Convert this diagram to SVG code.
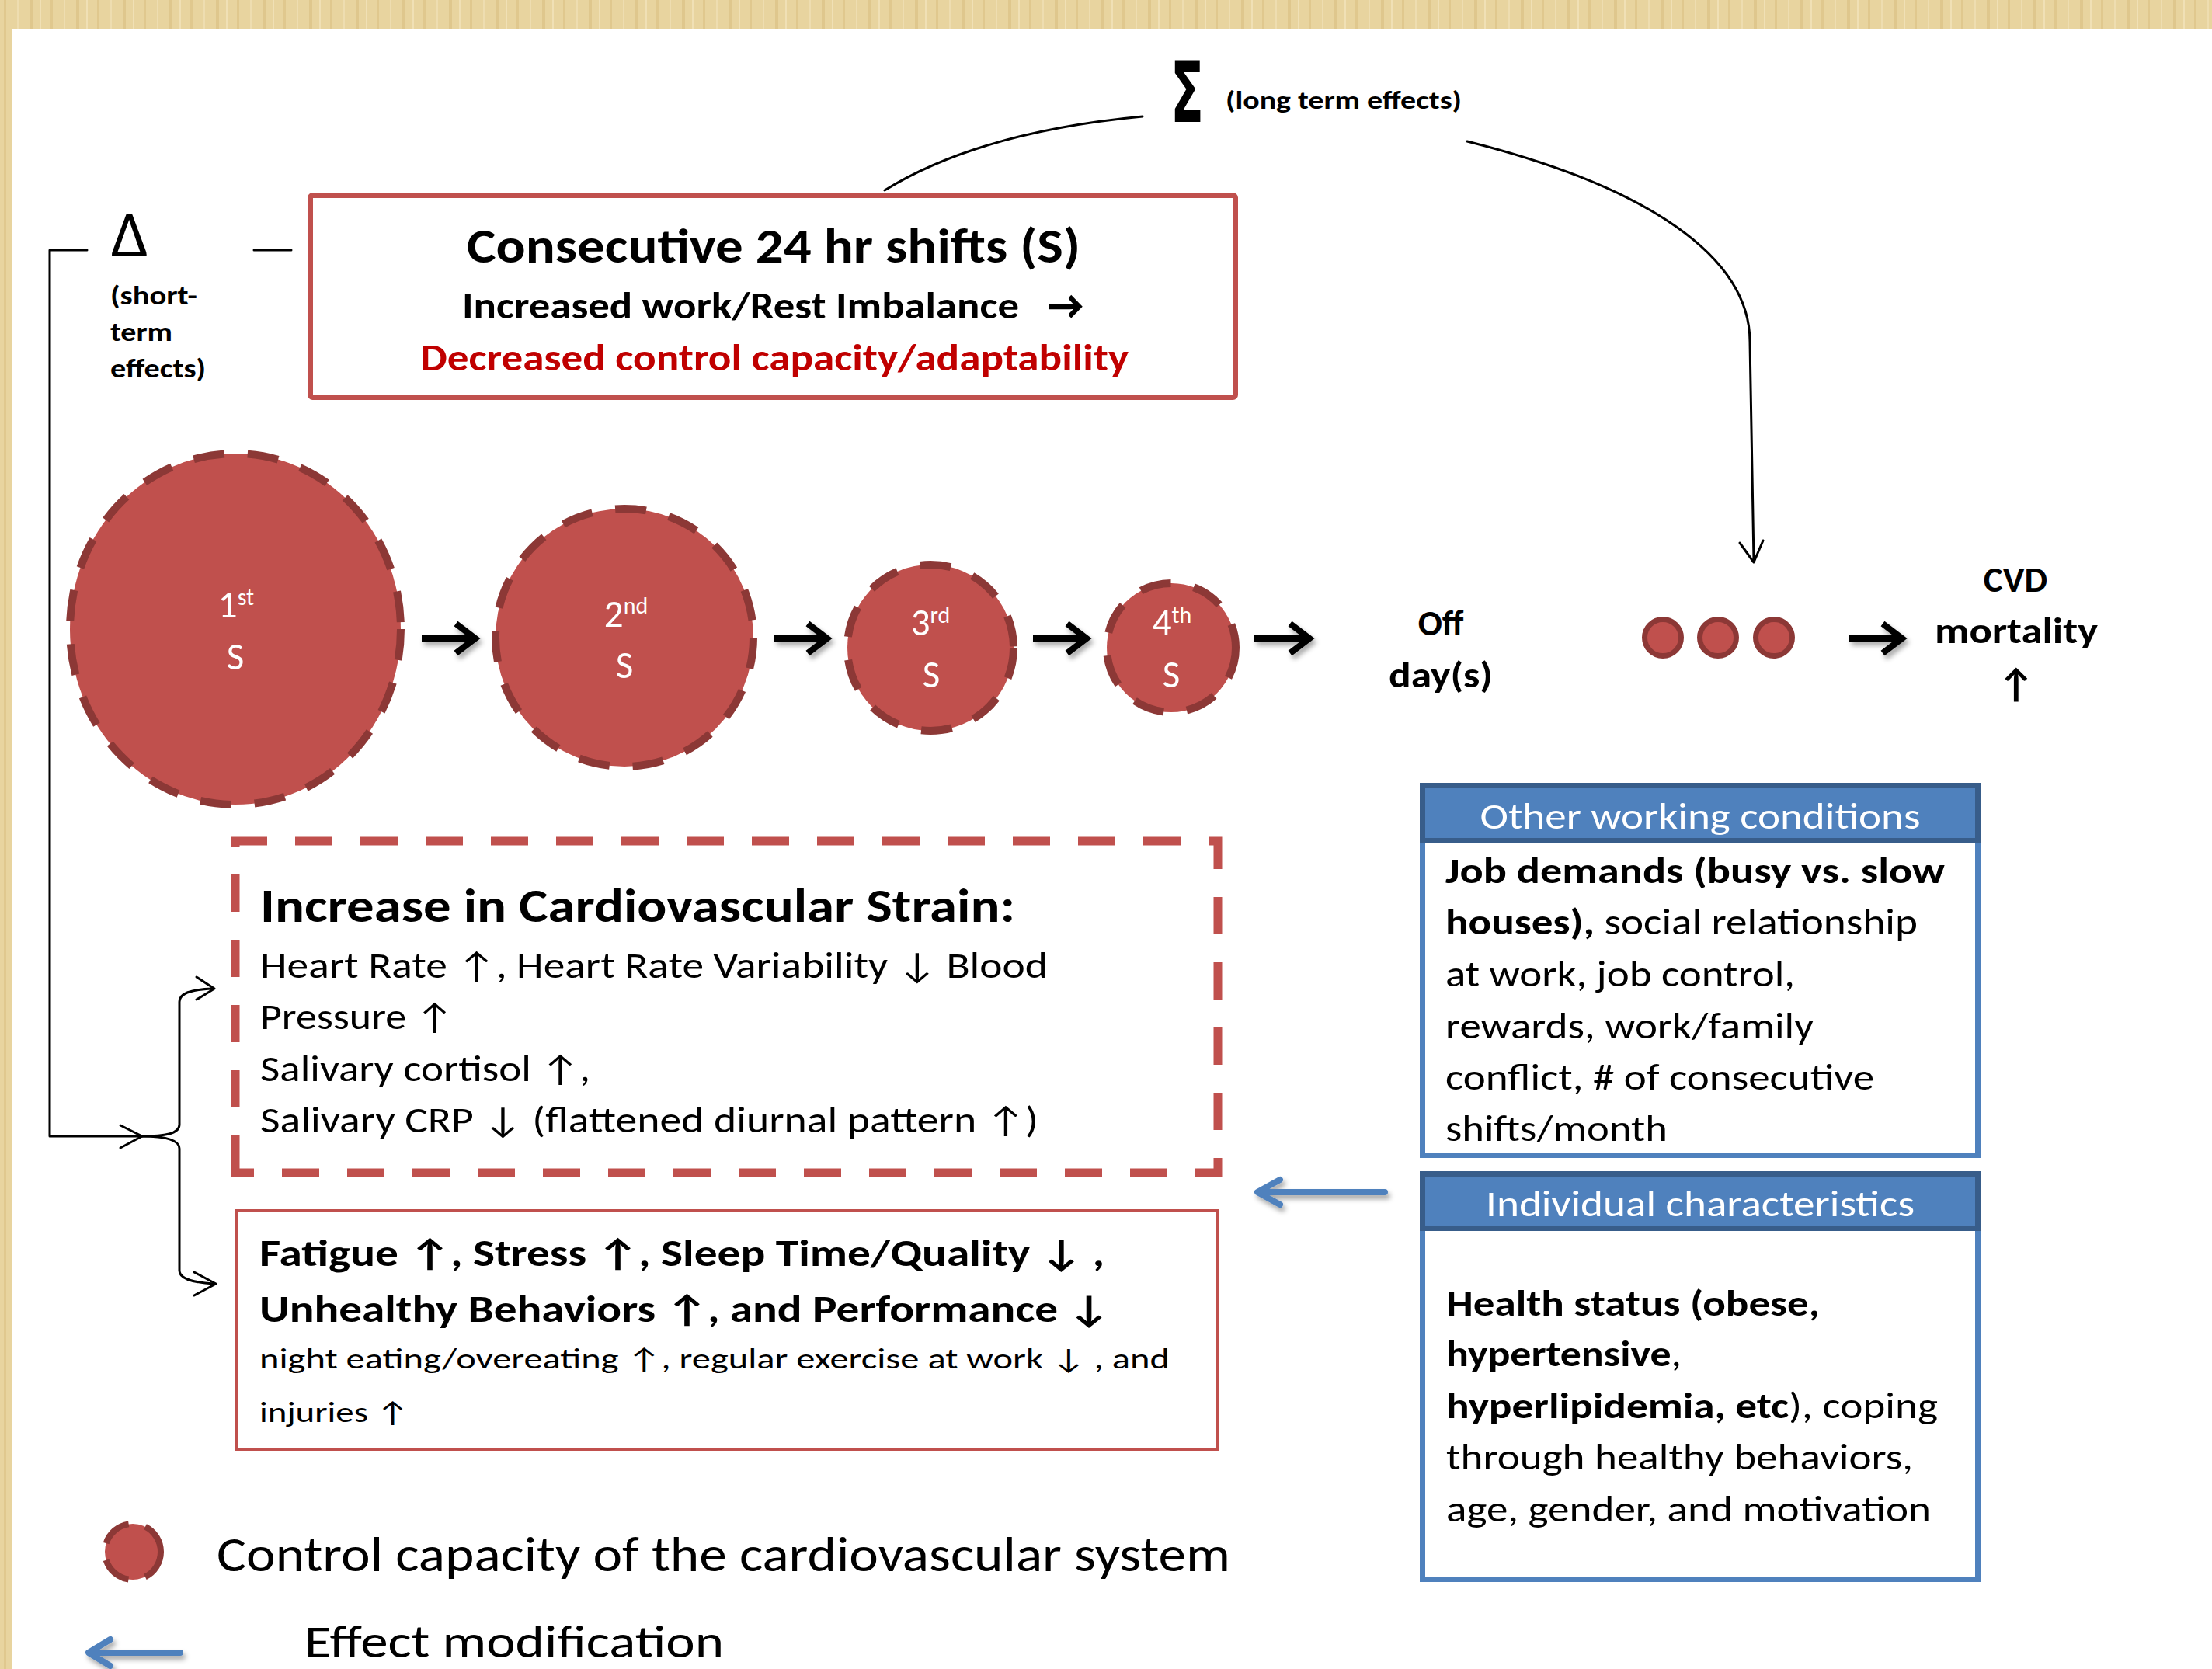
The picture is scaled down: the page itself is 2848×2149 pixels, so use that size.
<svg xmlns="http://www.w3.org/2000/svg" width="2848" height="2149" viewBox="0 0 2848 2149">
<defs>
<style>
.t{font-family:Carlito,Lato,"Liberation Sans",sans-serif;fill:#000}
.b{font-weight:bold}
.w{fill:#fff}
.red{fill:#C00000}
.ln{fill:none;stroke:#000;stroke-width:3;stroke-linecap:round;stroke-linejoin:round}
.thick{fill:none;stroke:#000;stroke-width:8;stroke-linejoin:miter}
.blue{fill:none;stroke:#4F81BD;stroke-width:8;stroke-linecap:round;stroke-linejoin:round}
.cc{fill:#C0504D;stroke:#8C3836;stroke-width:10;stroke-dasharray:40 30}
.dot{fill:#C0504D;stroke:#8C3836;stroke-width:7}
</style>
<filter id="sh" x="-20%" y="-50%" width="140%" height="200%">
<feDropShadow dx="3" dy="5" stdDeviation="3" flood-color="#000" flood-opacity="0.35"/>
</filter>
<pattern id="wood" width="60" height="40" patternUnits="userSpaceOnUse">
<rect width="60" height="40" fill="#E8D49F"/>
<rect x="5" width="3" height="40" fill="#E0C88E"/>
<rect x="22" width="2" height="40" fill="#EEDDB0"/>
<rect x="38" width="4" height="40" fill="#DFC78D"/>
<rect x="51" width="2" height="40" fill="#F0E0B5"/>
</pattern>
</defs>
<rect width="2848" height="2149" fill="#fff"/>
<rect width="2848" height="37" fill="url(#wood)"/>
<rect width="16" height="2149" fill="url(#wood)"/>

<g id="connectors">
<path class="ln" d="M112,322 H64 V1463 H181"/>
<path class="ln" d="M155,1449 L183,1463 L155,1478"/>
<path class="ln" d="M327,322 H375"/>
<path class="ln" d="M183,1463 C212,1463 231,1460 231,1448 V1290 C231,1279 245,1274 274,1273"/>
<path class="ln" d="M253,1258 L276,1273 L253,1287"/>
<path class="ln" d="M183,1463 C212,1463 231,1467 231,1479 V1636 C231,1646 245,1651 276,1653"/>
<path class="ln" d="M250,1638 L278,1653 L250,1668"/>
<path class="ln" d="M1139,245 Q1260,170 1471,150"/>
<path class="ln" d="M1889,182 C2120,240 2253,330 2253,440 L2258,722"/>
<path class="ln" d="M2240,699 L2258,724 L2270,696"/>
<g filter="url(#sh)">
<path class="thick" d="M543,822 H609 M587,803 L612,822 L587,841"/>
<path class="thick" d="M997,822 H1062 M1040,803 L1065,822 L1040,841"/>
<path class="thick" d="M1330,822 H1396 M1374,803 L1399,822 L1374,841"/>
<path class="thick" d="M1615,822 H1683 M1661,803 L1686,822 L1661,841"/>
<path class="thick" d="M2381,822 H2446 M2424,803 L2449,822 L2424,841"/>
<path class="blue" d="M1783,1535 H1622 M1648,1519 L1619,1535 L1648,1551"/>
<path class="blue" d="M232,2128 H118 M142,2111 L114,2128 L142,2145"/>
</g>
</g>

<g id="sigma">
<text class="t b" x="1507" y="157" font-size="108" textLength="43" lengthAdjust="spacingAndGlyphs" style="font-family:'DejaVu Sans',sans-serif">Σ</text>
<text class="t b" x="1578" y="140" font-size="32" textLength="304" lengthAdjust="spacingAndGlyphs">(long term effects)</text>
</g>

<g id="delta">
<text class="t" x="143" y="330" font-size="84" textLength="48" lengthAdjust="spacingAndGlyphs">Δ</text>
<text class="t b" x="142" y="392" font-size="34" textLength="112" lengthAdjust="spacingAndGlyphs">(short-</text>
<text class="t b" x="142" y="439" font-size="34" textLength="80" lengthAdjust="spacingAndGlyphs">term</text>
<text class="t b" x="142" y="486" font-size="34" textLength="123" lengthAdjust="spacingAndGlyphs">effects)</text>
</g>

<g id="shifts-box">
<rect x="399.5" y="251.5" width="1191" height="260" rx="3" fill="#fff" stroke="#C0504D" stroke-width="7"/>
<text class="t b" x="601" y="338" font-size="62" textLength="790" lengthAdjust="spacingAndGlyphs">Consecutive 24 hr shifts (S)</text>
<text class="t b" x="595" y="410" font-size="49" textLength="717" lengthAdjust="spacingAndGlyphs">Increased work/Rest Imbalance</text>
<text class="t b" x="1350" y="410" font-size="50" textLength="44" lengthAdjust="spacingAndGlyphs" stroke="#000" stroke-width="1.5">→</text>
<text class="t b red" x="541" y="477" font-size="49" textLength="912" lengthAdjust="spacingAndGlyphs">Decreased control capacity/adaptability</text>
</g>

<g id="shift1">
<ellipse class="cc" cx="303" cy="810" rx="213" ry="226"/>
<text class="t w" x="304" y="795" font-size="49" text-anchor="middle">1<tspan font-size="30" dy="-16">st</tspan></text>
<text class="t w" x="303" y="862" font-size="49" text-anchor="middle">S</text>
</g>
<g id="shift2">
<circle class="cc" cx="804" cy="821" r="166"/>
<text class="t w" x="806" y="807" font-size="49" text-anchor="middle">2<tspan font-size="30" dy="-17">nd</tspan></text>
<text class="t w" x="804" y="873" font-size="49" text-anchor="middle">S</text>
</g>
<g id="shift3">
<circle class="cc" cx="1198" cy="834" r="107"/>
<text class="t w" x="1198" y="818" font-size="49" text-anchor="middle">3<tspan font-size="30" dy="-16">rd</tspan></text>
<text class="t w" x="1199" y="885" font-size="49" text-anchor="middle">S</text>
</g>
<g id="shift4">
<circle class="cc" cx="1508" cy="834" r="83"/>
<text class="t w" x="1509" y="818" font-size="49" text-anchor="middle">4<tspan font-size="30" dy="-16">th</tspan></text>
<text class="t w" x="1508" y="885" font-size="49" text-anchor="middle">S</text>
</g>

<g id="offdays">
<text class="t b" x="1855" y="818" font-size="46" text-anchor="middle">Off</text>
<text class="t b" x="1855" y="885" font-size="46" text-anchor="middle" textLength="134" lengthAdjust="spacingAndGlyphs">day(s)</text>
</g>

<g id="dots">
<circle class="dot" cx="2141" cy="821" r="23.5"/>
<circle class="dot" cx="2212" cy="821" r="23.5"/>
<circle class="dot" cx="2284" cy="821" r="23.5"/>
</g>

<g id="cvd">
<text class="t b" x="2595" y="762" font-size="47" text-anchor="middle">CVD</text>
<text class="t b" x="2596" y="828" font-size="47" text-anchor="middle" textLength="210" lengthAdjust="spacingAndGlyphs">mortality</text>
<text class="t b" x="2596" y="898" font-size="52" text-anchor="middle">↑</text>
</g>

<g id="cv-strain">
<path d="M303,1510 V1083 H1568 V1510 Z" fill="none" stroke="#C0504D" stroke-width="11" stroke-dasharray="48 36"/>
<text class="t b" x="335" y="1187" font-size="61" textLength="972" lengthAdjust="spacingAndGlyphs">Increase in Cardiovascular Strain:</text>
<text class="t" x="335" y="1259" font-size="47" textLength="1014" lengthAdjust="spacingAndGlyphs">Heart Rate ↑, Heart Rate Variability ↓ Blood</text>
<text class="t" x="335" y="1325" font-size="47" textLength="249" lengthAdjust="spacingAndGlyphs">Pressure ↑</text>
<text class="t" x="335" y="1392" font-size="47" textLength="425" lengthAdjust="spacingAndGlyphs">Salivary cortisol ↑,</text>
<text class="t" x="335" y="1458" font-size="47" textLength="1002" lengthAdjust="spacingAndGlyphs">Salivary CRP ↓ (flattened diurnal pattern ↑)</text>
</g>

<g id="fatigue">
<rect x="304" y="1559" width="1264" height="307" fill="#fff" stroke="#C0504D" stroke-width="4"/>
<text class="t b" x="334" y="1630" font-size="49" textLength="1088" lengthAdjust="spacingAndGlyphs">Fatigue ↑, Stress ↑, Sleep Time/Quality ↓ ,</text>
<text class="t b" x="334" y="1702" font-size="49" textLength="1095" lengthAdjust="spacingAndGlyphs">Unhealthy Behaviors ↑, and Performance ↓</text>
<text class="t" x="334" y="1762" font-size="37" textLength="1172" lengthAdjust="spacingAndGlyphs">night eating/overeating ↑,  regular exercise at work  ↓ , and</text>
<text class="t" x="334" y="1831" font-size="37" textLength="193" lengthAdjust="spacingAndGlyphs">injuries ↑</text>
</g>

<g id="working-conditions">
<rect x="1831.5" y="1082" width="715" height="405.5" fill="#fff" stroke="#4F81BD" stroke-width="7"/>
<rect x="1831.5" y="1011.5" width="715" height="71" fill="#4F81BD" stroke="#385D8A" stroke-width="7"/>
<text class="t w" x="2189" y="1067" font-size="47" text-anchor="middle" textLength="567" lengthAdjust="spacingAndGlyphs">Other working conditions</text>
<text class="t b" x="1861" y="1137" font-size="47" textLength="643" lengthAdjust="spacingAndGlyphs">Job demands  (busy vs. slow</text>
<text class="t" x="1861" y="1203" font-size="47" textLength="608" lengthAdjust="spacingAndGlyphs"><tspan class="b">houses),</tspan> social relationship</text>
<text class="t" x="1861" y="1270" font-size="47" textLength="450" lengthAdjust="spacingAndGlyphs">at work, job control,</text>
<text class="t" x="1861" y="1337" font-size="47" textLength="474" lengthAdjust="spacingAndGlyphs">rewards, work/family</text>
<text class="t" x="1861" y="1403" font-size="47" textLength="552" lengthAdjust="spacingAndGlyphs">conflict, # of consecutive</text>
<text class="t" x="1861" y="1469" font-size="47" textLength="286" lengthAdjust="spacingAndGlyphs">shifts/month</text>
</g>

<g id="individual">
<rect x="1831.5" y="1580" width="715" height="453.5" fill="#fff" stroke="#4F81BD" stroke-width="7"/>
<rect x="1831.5" y="1511.5" width="715" height="70" fill="#4F81BD" stroke="#385D8A" stroke-width="7"/>
<text class="t w" x="2189" y="1566" font-size="47" text-anchor="middle" textLength="552" lengthAdjust="spacingAndGlyphs">Individual characteristics</text>
<text class="t b" x="1862" y="1694" font-size="47" textLength="481" lengthAdjust="spacingAndGlyphs">Health status (obese,</text>
<text class="t" x="1862" y="1759" font-size="47" textLength="303" lengthAdjust="spacingAndGlyphs"><tspan class="b">hypertensive</tspan>,</text>
<text class="t" x="1862" y="1826" font-size="47" textLength="633" lengthAdjust="spacingAndGlyphs"><tspan class="b">hyperlipidemia, etc</tspan>), coping</text>
<text class="t" x="1862" y="1892" font-size="47" textLength="601" lengthAdjust="spacingAndGlyphs">through healthy behaviors,</text>
<text class="t" x="1862" y="1959" font-size="47" textLength="624" lengthAdjust="spacingAndGlyphs">age, gender, and motivation</text>
</g>

<g id="legend">
<circle cx="171" cy="1998" r="36" fill="#C0504D" stroke="#8C3836" stroke-width="8" stroke-dasharray="40 22"/>
<text class="t" x="279" y="2023" font-size="63" textLength="1305" lengthAdjust="spacingAndGlyphs">Control capacity of the cardiovascular system</text>
<text class="t" x="392" y="2134" font-size="60" textLength="540" lengthAdjust="spacingAndGlyphs">Effect modification</text>
</g>
</svg>
